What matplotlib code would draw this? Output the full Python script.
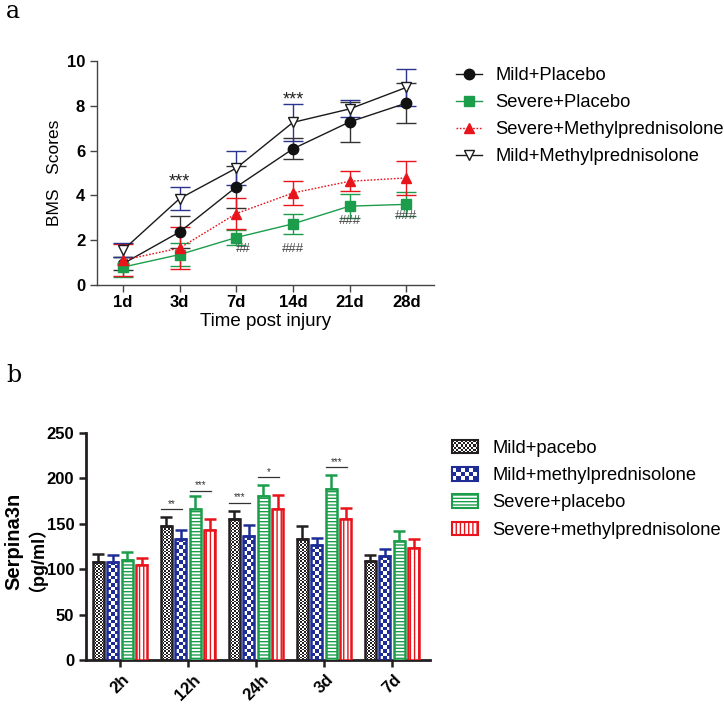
import numpy as np
import matplotlib
matplotlib.use("Agg")
import matplotlib.pyplot as plt
from matplotlib.patches import Patch, Rectangle
from matplotlib.colors import ListedColormap
from matplotlib.legend_handler import HandlerBase

plt.rcParams["font.family"] = ["Liberation Sans", "Noto Sans CJK SC"]

# --------------------------------------------------
# Data: panel a (BMS scores)
# --------------------------------------------------
days = ["1d", "3d", "7d", "14d", "21d", "28d"]

mild_placebo = [0.95, 2.37, 4.38, 6.08, 7.28, 8.12]
mild_placebo_err = [0.3, 0.7, 0.94, 0.47, 0.9, 0.88]

severe_placebo = [0.8, 1.36, 2.12, 2.73, 3.52, 3.6]
severe_placebo_err = [0.45, 0.5, 0.35, 0.45, 0.55, 0.53]

severe_mp = [1.11, 1.65, 3.19, 4.11, 4.63, 4.78]
severe_mp_err = [0.7, 0.93, 0.68, 0.55, 0.45, 0.75]

mild_mp = [1.56, 3.86, 5.22, 7.26, 7.86, 8.82]
mild_mp_err = [0.3, 0.53, 0.75, 0.82, 0.38, 0.82]

star_marks = [(1, 4.6, "***"), (3, 8.25, "***")]
hash_marks = [(2, 1.6, "##"), (3, 1.6, "###"), (4, 2.85, "###"), (5, 3.08, "###")]

# --------------------------------------------------
# Data: panel b (Serpina3n)
# --------------------------------------------------
groups = ["2h", "12h", "24h", "3d", "7d"]

b_mild_placebo = [107.7, 147.7, 155.0, 133.4, 108.4]
b_mild_placebo_err = [9.3, 9.3, 9.0, 13.6, 7.4]

b_mild_mp = [108.0, 133.4, 136.0, 126.0, 113.9]
b_mild_mp_err = [8.0, 9.6, 12.0, 8.5, 8.1]

b_severe_placebo = [110.0, 165.7, 180.8, 188.0, 131.0]
b_severe_placebo_err = [9.0, 14.3, 12.2, 15.0, 11.0]

b_severe_mp = [104.7, 143.3, 165.7, 155.0, 122.7]
b_severe_mp_err = [7.3, 11.7, 16.3, 12.0, 10.3]

# (group, bar i, bar j, height, text)
sig_bars = [(1, 0, 1, 166, "**"), (1, 2, 3, 186, "***"),
            (2, 0, 1, 173, "***"), (2, 2, 3, 201, "*"),
            (3, 2, 3, 212, "***")]

BLACK = "#231f20"
BLUE = "#1e2d96"
GREEN = "#1c9d4c"
RED = "#e8141c"

fig = plt.figure(figsize=(7.24, 7.07), dpi=100)

# --------------------------------------------------
# Panel a
# --------------------------------------------------
ax1 = fig.add_axes([97 / 724, 1 - 285 / 707, 337 / 724, 224 / 707])
x = np.arange(len(days))

series_a = [
    ("Mild+Placebo", mild_placebo, mild_placebo_err, "#1a1a1a", "#333333",
     dict(marker="o", ms=7.5, mfc="#111111", mec="#111111", ls="-")),
    ("Severe+Placebo", severe_placebo, severe_placebo_err, GREEN, GREEN,
     dict(marker="s", ms=7, mfc=GREEN, mec=GREEN, ls="-")),
    ("Severe+Methylprednisolone", severe_mp, severe_mp_err, RED, RED,
     dict(marker="^", ms=7, mfc=RED, mec=RED, ls=(0, (1.2, 1.2)))),
    ("Mild+Methylprednisolone", mild_mp, mild_mp_err, "#1a1a1a", "#2b3590",
     dict(marker="v", ms=7.5, mfc="white", mec="#1a1a1a", ls="-")),
]

handles_a = []
for label, vals, errs, lc, ec, style in series_a:
    ax1.errorbar(x, vals, yerr=errs, fmt="none", ecolor=ec,
                 elinewidth=1.0, capsize=7, capthick=1.0, zorder=2)
    ln, = ax1.plot(x, vals, color=lc, lw=1.0, label=label, zorder=3,
                   **style)
    handles_a.append(ln)

for xi, yi, txt in star_marks:
    ax1.text(xi, yi, txt, ha="center", va="center", fontsize=13,
             color="#222222")
for xi, yi, txt in hash_marks:
    ax1.text(xi + (0.12 if txt == "##" else 0), yi, txt, ha="center",
             va="center", fontsize=9.5, color="#444444")

ax1.set_xlim(-0.46, 5.49)
ax1.set_ylim(0, 10)
ax1.set_xticks(x)
ax1.set_xticklabels(days, fontsize=12, fontweight="bold")
ax1.set_yticks([0, 2, 4, 6, 8, 10])
ax1.tick_params(labelsize=12, length=5, width=1.0, color="#444444")
ax1.tick_params(axis="x", pad=2)
for lab in ax1.get_yticklabels():
    lab.set_fontweight("bold")
for sp in ["top", "right"]:
    ax1.spines[sp].set_visible(False)
for sp in ["left", "bottom"]:
    ax1.spines[sp].set_linewidth(1.0)
    ax1.spines[sp].set_color("#444444")

ax1.set_xlabel("Time post injury", fontsize=13.5)
ax1.set_ylabel("BMS   Scores", fontsize=12.5)
ax1.yaxis.set_label_coords(-0.105, 0.5)
ax1.xaxis.set_label_coords(0.5, -0.125)

fig.legend(handles=handles_a, loc="upper left",
           bbox_to_anchor=(456 / 724, 1 - 67 / 707), frameon=False,
           fontsize=13.2, handlelength=1.4, handletextpad=0.75,
           labelspacing=0.55, borderpad=0, borderaxespad=0)

# --------------------------------------------------
# Panel b
# --------------------------------------------------
ax2 = fig.add_axes([86 / 724, 1 - 660 / 707, 344 / 724, 227.3 / 707])
ax2.set_xlim(-0.5, 4.56)
ax2.set_ylim(0, 250)

gx = np.arange(len(groups))
step = 0.213
width = 0.162
offsets = (np.arange(4) - 1.5) * step

series_b = [
    ("Mild+pacebo", b_mild_placebo, b_mild_placebo_err, BLACK, "check", 1.6),
    ("Mild+methylprednisolone", b_mild_mp, b_mild_mp_err, BLUE, "check", 3.7),
    ("Severe+placebo", b_severe_placebo, b_severe_placebo_err, GREEN, "-----", 0),
    ("Severe+methylprednisolone", b_severe_mp, b_severe_mp_err, RED, "||||", 0),
]


def fill_checker(ax, rect, color, cell):
    x0, y0 = rect.get_x(), rect.get_y()
    w, h = rect.get_width(), rect.get_height()
    p0 = ax.transData.transform((x0, y0))
    p1 = ax.transData.transform((x0 + w, y0 + h))
    ncols = max(1, int(round((p1[0] - p0[0]) / cell)))
    nrows = max(1, int(round((p1[1] - p0[1]) / cell)))
    arr = np.indices((nrows, ncols)).sum(axis=0) % 2
    im = ax.imshow(arr, extent=(x0, x0 + w, y0, y0 + h), origin="lower",
                   cmap=ListedColormap(["white", color]), vmin=0, vmax=1,
                   interpolation="nearest", aspect="auto", zorder=2)
    im.set_clip_path(rect)


for k, (label, vals, errs, color, pat, cell) in enumerate(series_b):
    xs = gx + offsets[k]
    if pat == "check":
        bars = ax2.bar(xs, vals, width, facecolor="none", edgecolor=color,
                       linewidth=1.8, zorder=3)
        for rect in bars:
            fill_checker(ax2, rect, color, cell)
    else:
        ax2.bar(xs, vals, width, facecolor="white", edgecolor=color,
                hatch=pat, linewidth=1.8, zorder=3)
    ax2.errorbar(xs, vals, yerr=[np.zeros(len(errs)), errs], fmt="none",
                 ecolor=color, elinewidth=1.8, capsize=4, capthick=1.8,
                 zorder=2.5)

for g, i, j, yv, txt in sig_bars:
    xl = g + offsets[i] - width / 2
    xr = g + offsets[j] + width / 2 - 0.06
    ax2.plot([xl, xr], [yv, yv], color="#333333", lw=0.9, zorder=4)
    ax2.text((xl + xr) / 2, yv + 0.5, txt, ha="center", va="bottom",
             fontsize=7, color="#333333")

ax2.set_xlim(-0.5, 4.56)
ax2.set_ylim(0, 250)
ax2.set_xticks(gx)
ax2.set_xticklabels(groups, rotation=45, fontsize=12.5, fontweight="bold")
ax2.set_yticks([0, 50, 100, 150, 200, 250])
ax2.tick_params(labelsize=12, length=5, width=1.8, color=BLACK)
for lab in ax2.get_yticklabels():
    lab.set_fontweight("bold")
for sp in ["top", "right"]:
    ax2.spines[sp].set_visible(False)
for sp in ["left", "bottom"]:
    ax2.spines[sp].set_linewidth(2.0)
    ax2.spines[sp].set_color(BLACK)

# two-line y label: name, then unit in full-width brackets
ax2.text(-0.211, 0.524, "Serpina3n", transform=ax2.transAxes, rotation=90,
         ha="center", va="center", fontsize=14.5, fontweight="bold")
ax2.text(-0.17, 0.484, "（pg/ml）", transform=ax2.transAxes, rotation=90,
         ha="center", va="center", fontsize=13, fontweight="bold")


class CheckerHandler(HandlerBase):
    def __init__(self, color, ncols, nrows):
        super().__init__()
        self.color = color
        self.ncols = ncols
        self.nrows = nrows

    def create_artists(self, legend, orig_handle, xdescent, ydescent,
                       width, height, fontsize, trans):
        x0, y0 = -xdescent, -ydescent
        cw, ch = width / self.ncols, height / self.nrows
        arts = []
        for i in range(self.nrows):
            for j in range(self.ncols):
                if (i + j) % 2:
                    arts.append(Rectangle((x0 + j * cw, y0 + i * ch), cw, ch,
                                          facecolor=self.color,
                                          edgecolor="none", transform=trans))
        arts.append(Rectangle((x0, y0), width, height, facecolor="none",
                              edgecolor=self.color, lw=1.5, transform=trans))
        return arts


handles_b = []
handler_map = {}
for label, vals, errs, color, pat, cell in series_b:
    if pat == "check":
        h = Patch(facecolor="white", edgecolor=color, label=label)
        n = 12 if cell < 2 else 6
        handler_map[h] = CheckerHandler(color, n, n // 2)
    else:
        h = Patch(facecolor="white", edgecolor=color, hatch=pat, lw=1.5,
                  label=label)
    handles_b.append(h)

fig.legend(handles=handles_b, handler_map=handler_map, loc="upper left",
           bbox_to_anchor=(452 / 724, 1 - 440 / 707), frameon=False,
           fontsize=13.2, handlelength=1.4, handleheight=0.75,
           handletextpad=0.8, labelspacing=0.55, borderpad=0,
           borderaxespad=0)

# --------------------------------------------------
# Panel letters
# --------------------------------------------------
fig.text(6 / 724, 1 - 12 / 707, "a", fontsize=17, family="DejaVu Serif",
         va="center", ha="left")
fig.text(6 / 724, 1 - 375 / 707, "b", fontsize=17, family="DejaVu Serif",
         va="center", ha="left")

fig.savefig("out.png", dpi=100)
